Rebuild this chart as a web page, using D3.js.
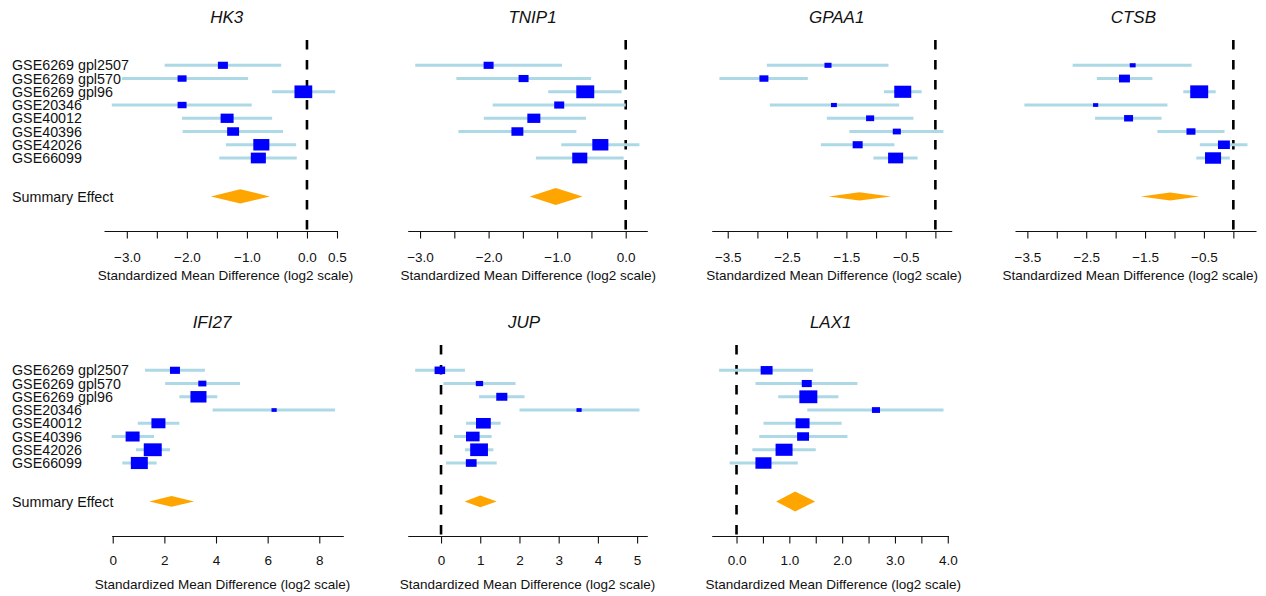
<!DOCTYPE html>
<html>
<head>
<meta charset="utf-8">
<script src="https://cdn.jsdelivr.net/npm/d3@7"></script>
<style>
  body { margin: 0; background: #fff; }
  svg text { font-family: "Liberation Sans", Arial, Helvetica, sans-serif; fill: #111; }
</style>
</head>
<body>
<div id="forest"></div>
<script>
// Studies (rows) and genes (panels)
const studies = ["GSE6269 gpl2507", "GSE6269 gpl570", "GSE6269 gpl96", "GSE20346",
    "GSE40012", "GSE40396", "GSE42026", "GSE66099"];
const genes = ["HK3", "TNIP1", "GPAA1", "CTSB", "IFI27", "JUP", "LAX1"];

// Per-gene study effect sizes with 95% CI
const effect = [
    [-1.40, -2.08, -0.06, -2.08, -1.33, -1.23, -0.76, -0.81],
    [-2.00, -1.49, -0.59, -0.97, -1.34, -1.58, -0.37, -0.67],
    [-1.81, -2.89, -0.55, -1.71, -1.10, -0.65, -1.31, -0.67],
    [-1.71, -1.85, -0.58, -2.34, -1.78, -0.72, -0.16, -0.345],
    [2.41, 3.47, 3.32, 6.25, 1.77, 0.77, 1.55, 1.03],
    [-0.03, 0.98, 1.55, 3.52, 1.08, 0.81, 0.97, 0.77],
    [0.57, 1.33, 1.36, 2.64, 1.25, 1.26, 0.90, 0.51]
];
const lower = [
    [-2.37, -3.08, -0.58, -3.25, -2.08, -2.07, -1.35, -1.46],
    [-3.07, -2.47, -1.13, -1.94, -2.07, -2.44, -0.94, -1.31],
    [-2.84, -3.64, -0.865, -2.79, -1.83, -1.45, -1.93, -1.045],
    [-2.73, -2.32, -0.85, -3.55, -2.35, -1.29, -0.57, -0.63],
    [1.25, 2.03, 2.58, 3.87, 0.97, -0.04, 0.90, 0.37],
    [-0.66, 0.06, 0.97, 2.00, 0.64, 0.33, 0.61, 0.13],
    [-0.33, 0.36, 0.79, 1.34, 0.51, 0.43, 0.30, -0.13]
];
const upper = [
    [-0.43, -0.98, 0.47, -0.92, -0.58, -0.40, -0.18, -0.17],
    [-0.93, -0.505, -0.06, 0.0, -0.58, -0.72, 0.20, -0.03],
    [-0.79, -2.15, -0.23, -0.61, -0.37, 0.135, -0.69, -0.30],
    [-0.71, -1.375, -0.30, -1.12, -1.22, -0.15, 0.24, -0.06],
    [3.57, 4.93, 4.05, 8.61, 2.58, 1.60, 2.22, 1.70],
    [0.61, 1.90, 2.13, 5.06, 1.52, 1.29, 1.335, 1.42],
    [1.45, 2.29, 1.93, 3.92, 1.99, 2.10, 1.50, 1.16]
];
// Relative study weights (box area)
const weight = [
    [0.26, 0.21, 0.82, 0.21, 0.44, 0.37, 0.67, 0.59],
    [0.26, 0.26, 0.84, 0.26, 0.44, 0.37, 0.67, 0.59],
    [0.13, 0.21, 0.75, 0.09, 0.17, 0.17, 0.26, 0.59],
    [0.09, 0.31, 0.84, 0.07, 0.21, 0.21, 0.37, 0.67],
    [0.26, 0.17, 0.67, 0.07, 0.51, 0.51, 0.84, 0.75],
    [0.29, 0.14, 0.32, 0.07, 0.57, 0.48, 0.82, 0.30],
    [0.37, 0.26, 0.84, 0.17, 0.51, 0.37, 0.75, 0.67]
];

// Summary effect per gene
const summaryEffect = [-1.11, -1.02, -1.28, -1.075, 2.28, 1.00, 1.11];
const summaryLower = [-1.60, -1.40, -1.80, -1.57, 1.42, 0.60, 0.75];
const summaryUpper = [-0.62, -0.63, -0.75, -0.58, 3.15, 1.42, 1.49];
const summaryWeight = [0.51, 0.72, 0.17, 0.16, 0.28, 0.35, 1.0];

// x limits and axis ticks per gene
const xLimits = [[-3.38, 0.5], [-3.18, 0.315], [-3.77, 0.275], [-3.71, 0.385],
    [-0.04, 8.93], [-0.85, 5.26], [-0.47, 4.01]];
const showZeroLine = [true, true, true, true, false, true, true];
const tickValues = [
    [-3, -2.5, -2, -1.5, -1, -0.5, 0, 0.5],
    [-3, -2.5, -2, -1.5, -1, -0.5, 0],
    [-3.5, -3, -2.5, -2, -1.5, -1, -0.5, 0],
    [-3.5, -3, -2.5, -2, -1.5, -1, -0.5, 0],
    [0, 2, 4, 6, 8],
    [0, 1, 2, 3, 4, 5],
    [0, 0.5, 1, 1.5, 2, 2.5, 3, 3.5, 4]
];
const tickLabels = [
    ["−3.0", "", "−2.0", "", "−1.0", "", "0.0", "0.5"],
    ["−3.0", "", "−2.0", "", "−1.0", "", "0.0"],
    ["−3.5", "", "−2.5", "", "−1.5", "", "−0.5", ""],
    ["−3.5", "", "−2.5", "", "−1.5", "", "−0.5", ""],
    ["0", "2", "4", "6", "8"],
    ["0", "1", "2", "3", "4", "5"],
    ["0.0", "", "1.0", "", "2.0", "", "3.0", "", "4.0"]
];

// Panel placement on the page
const layout = [
    { x0: 104, x1: 337, axisY: 231, titleX: 226.7, labX: 225.5, tickDy: 30.5, labDy: 49 },
    { x0: 407.7, x1: 647.3, axisY: 231, titleX: 532.5, labX: 528.3, tickDy: 30.5, labDy: 49 },
    { x0: 711.7, x1: 951.7, axisY: 231, titleX: 836.7, labX: 834, tickDy: 30.5, labDy: 49 },
    { x0: 1015, x1: 1256, axisY: 231, titleX: 1133.3, labX: 1130.3, tickDy: 30.5, labDy: 49 },
    { x0: 111.7, x1: 343.3, axisY: 536, titleX: 212, labX: 222.5, tickDy: 29, labDy: 53 },
    { x0: 407.7, x1: 647.3, axisY: 536, titleX: 524, labX: 527.5, tickDy: 29, labDy: 53 },
    { x0: 711.7, x1: 948.3, axisY: 536, titleX: 830.7, labX: 833.3, tickDy: 29, labDy: 53 }
];

const W = 1266, H = 596;
const svg = d3.select("#forest").append("svg")
    .attr("width", W)
    .attr("height", H);

// box side grows with sqrt of weight
const boxH = d3.scaleSqrt().domain([0, 1]).range([0, 14]);
const diamondH = d3.scaleSqrt().domain([0, 1]).range([0, 20]);

genes.forEach((gene, g) => {
    const L = layout[g];
    const x = d3.scaleLinear().domain(xLimits[g]).range([L.x0, L.x1]);
    // row index -> vertical position (summary sits just below row 9)
    const y = d3.scaleLinear().domain([0, 7]).range([L.axisY - 165.7, L.axisY - 73]);
    const summaryRow = 9.9;

    const panel = svg.append("g").attr("class", "panel");

    // Title
    panel.append("text")
        .attr("x", L.titleX)
        .attr("y", L.axisY - 208.5)
        .attr("text-anchor", "middle")
        .style("font-size", "17px")
        .style("font-style", "italic")
        .text(gene);

    // Study labels on the left column only
    if (g === 0 || g === 4) {
        panel.selectAll(".study-label")
            .data(studies)
            .join("text")
            .attr("class", "study-label")
            .attr("x", 12)
            .attr("y", (d, i) => y(i))
            .attr("dy", "0.36em")
            .style("font-size", "14.3px")
            .text(d => d);
        panel.append("text")
            .attr("x", 12)
            .attr("y", y(summaryRow))
            .attr("dy", "0.36em")
            .style("font-size", "14.3px")
            .text("Summary Effect");
    }

    // Zero line
    if (showZeroLine[g]) {
        panel.append("line")
            .attr("x1", x(0)).attr("x2", x(0))
            .attr("y1", L.axisY - 191).attr("y2", L.axisY)
            .attr("stroke", "#000")
            .attr("stroke-width", 2.6)
            .attr("stroke-dasharray", "9.5,10.5");
    }

    // X axis
    const axis = panel.append("g")
        .attr("transform", `translate(0,${L.axisY})`)
        .call(d3.axisBottom(x)
            .tickValues(tickValues[g])
            .tickFormat((d, i) => tickLabels[g][i])
            .tickSize(7.5)
            .tickSizeOuter(0));
    axis.select(".domain").attr("stroke", "#111").attr("stroke-width", 1.1);
    axis.selectAll(".tick line").attr("stroke", "#111").attr("stroke-width", 1.1);
    axis.selectAll(".tick text")
        .attr("y", L.tickDy)
        .attr("dy", null)
        .style("font-size", "13.5px")
        .attr("fill", "#222");

    // Axis title
    panel.append("text")
        .attr("x", L.labX)
        .attr("y", L.axisY + L.labDy)
        .attr("text-anchor", "middle")
        .style("font-size", "13.5px")
        .text("Standardized Mean Difference (log2 scale)");

    const rows = studies.map((s, i) => ({
        study: s, est: effect[g][i], lo: lower[g][i], hi: upper[g][i], w: weight[g][i], i
    }));

    // Confidence intervals
    panel.selectAll(".ci")
        .data(rows)
        .join("line")
        .attr("class", "ci")
        .attr("x1", d => x(d.lo))
        .attr("x2", d => x(d.hi))
        .attr("y1", d => y(d.i))
        .attr("y2", d => y(d.i))
        .attr("stroke", "#add8e6")
        .attr("stroke-width", 3);

    // Study boxes
    panel.selectAll(".box")
        .data(rows)
        .join("rect")
        .attr("class", "box")
        .attr("x", d => x(d.est) - boxH(d.w) * 0.7)
        .attr("y", d => y(d.i) - boxH(d.w) / 2)
        .attr("width", d => boxH(d.w) * 1.4)
        .attr("height", d => boxH(d.w))
        .attr("fill", "#0000ff");

    // Summary diamond
    const cy = y(summaryRow), hh = diamondH(summaryWeight[g]) / 2;
    const pts = [
        [x(summaryLower[g]), cy],
        [x(summaryEffect[g]), cy - hh],
        [x(summaryUpper[g]), cy],
        [x(summaryEffect[g]), cy + hh]
    ];
    panel.append("path")
        .attr("d", d3.line()(pts) + "Z")
        .attr("fill", "#ffa500");
});
</script>
</body>
</html>
